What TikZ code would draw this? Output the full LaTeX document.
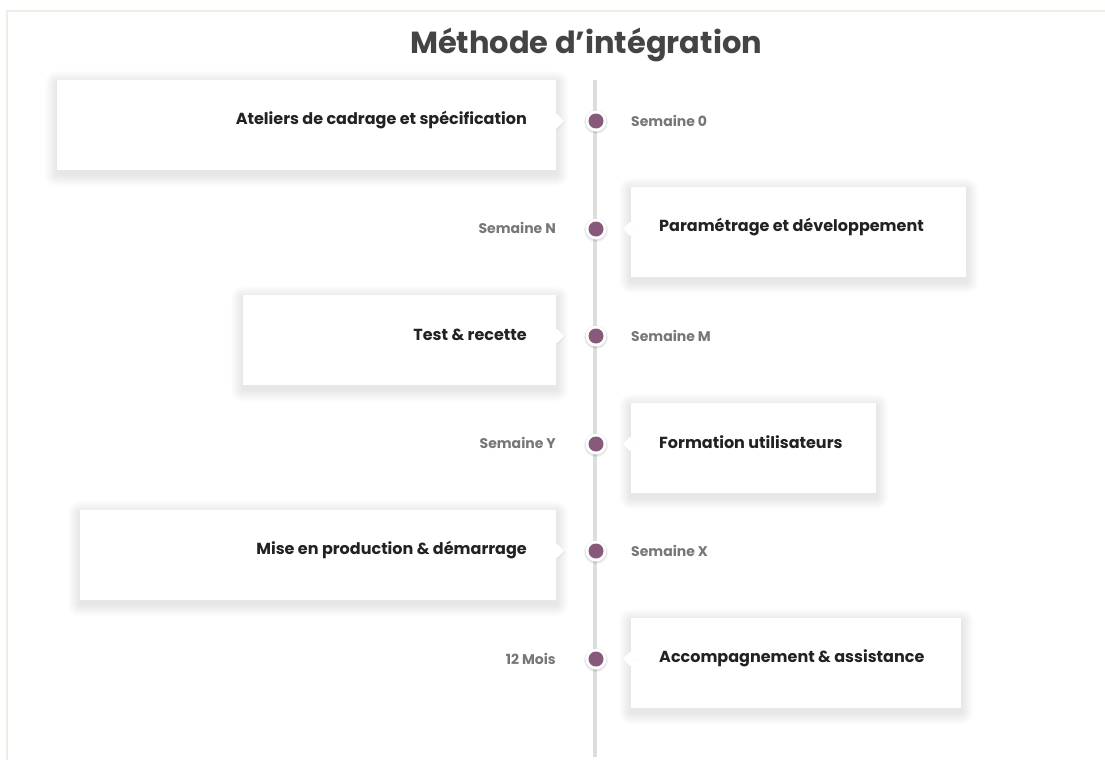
\documentclass[tikz,border=0pt]{standalone}
\usepackage{fontspec}
\setmainfont{Poppins}
\definecolor{framec}{HTML}{EEEEE4}
\definecolor{railc}{HTML}{DDDDDD}
\definecolor{dotc}{HTML}{875A7B}
\definecolor{titlec}{HTML}{444444}
\definecolor{textc}{HTML}{222222}
\definecolor{labelc}{HTML}{777777}
\tikzset{
  card/.style={fill=white, draw=none, inner sep=0pt, anchor=north west},
  pointer/.style={fill=white, draw=none, minimum size=10pt, inner sep=0pt, rotate=45},
  cardtext/.style={font=\bfseries\fontsize{16}{20}\selectfont, text=textc, inner sep=0pt},
  when/.style={font=\bfseries\fontsize{14}{16}\selectfont, text=labelc, inner sep=0pt},
  ring/.style={circle, fill=white, minimum size=21pt, inner sep=0pt},
  dot/.style={circle, fill=dotc, minimum size=15pt, inner sep=0pt},
}
% layered soft shadow behind a node
\newcommand\softshade[1]{%
  \foreach \k in {1,...,12}{%
    \fill[black, opacity=0.009, rounded corners=\k pt]
      ([xshift=-\k pt, yshift=-3pt+\k pt]#1.north west) rectangle
      ([xshift=\k pt, yshift=-4pt-\k pt]#1.south east);
  }}
\begin{document}
\begin{tikzpicture}[x=1pt,y=-1pt]
\useasboundingbox (0,0) rectangle (1105,760);
\fill[white] (0,0) rectangle (1105,760);
% frame
\draw[framec, line width=2pt] (7,760) -- (7,11) -- (1105,11);
% title
\node[font=\bfseries\fontsize{30.5}{36}\selectfont, text=titlec, inner sep=0pt] (title) at (586,45) {Méthode d’intégration};
% rail
\coordinate (railtop) at (595,80);
\coordinate (railbot) at (595,757);
\draw[railc, line width=4pt] (railtop) -- (railbot);

% cards (left side: right edge at 556, right side: left edge at 631)
\path
  (57,80)  node[card, minimum width=499pt, minimum height=90pt] (c1) {}
  (631,187) node[card, minimum width=335pt, minimum height=90pt] (c2) {}
  (243,295) node[card, minimum width=313pt, minimum height=90pt] (c3) {}
  (631,403) node[card, minimum width=245pt, minimum height=90pt] (c4) {}
  (80,510) node[card, minimum width=476pt, minimum height=90pt] (c5) {}
  (631,618) node[card, minimum width=330pt, minimum height=90pt] (c6) {};
\foreach \n in {1,...,6}{\softshade{c\n}}
\foreach \n in {1,...,6}{\fill[white] (c\n.north west) rectangle (c\n.south east);}

% pointers toward the rail
\foreach \n/\x/\y in {1/557/121,2/630/229,3/557/336,4/630/444,5/557/551,6/630/659}{
  \fill[black, opacity=0.04] (\x+1,\y+1) +(-7.5,0) -- +(0,-7.5) -- +(7.5,0) -- +(0,7.5) -- cycle;
  \node[pointer] (p\n) at (\x,\y) {};
}
\foreach \n in {1,3,5}{\fill[white] (c\n.north east) rectangle ([xshift=-6pt]c\n.south east);}
\foreach \n in {2,4,6}{\fill[white] (c\n.north west) rectangle ([xshift=6pt]c\n.south west);}

% card titles
\node[cardtext, anchor=east] (t1) at (527,120) {Ateliers de cadrage et spécification};
\node[cardtext, anchor=west] (t2) at (659,227) {Paramétrage et développement};
\node[cardtext, anchor=east] (t3) at (527,335) {Test \& recette};
\node[cardtext, anchor=west] (t4) at (659,442) {Formation utilisateurs};
\node[cardtext, anchor=east] (t5) at (527,550) {Mise en production \& démarrage};
\node[cardtext, anchor=west] (t6) at (659,658) {Accompagnement \& assistance};

% milestones
\foreach \n/\y in {1/121,2/229,3/336,4/444,5/551,6/659}{
  \fill[black, opacity=0.06] (596,\y+1) circle (12pt);
  \fill[black, opacity=0.06] (596,\y+1) circle (11pt);
  \node[ring] (r\n) at (596,\y) {};
  \node[dot] (d\n) at (r\n) {};
}

% dates
\node[when, anchor=west] (w1) at (631,121) {Semaine 0};
\node[when, anchor=east] (w2) at (556,228) {Semaine N};
\node[when, anchor=west] (w3) at (631,336) {Semaine M};
\node[when, anchor=east] (w4) at (556,443) {Semaine Y};
\node[when, anchor=west] (w5) at (631,551) {Semaine X};
\node[when, anchor=east] (w6) at (556,659) {12 Mois};
\end{tikzpicture}
\end{document}
